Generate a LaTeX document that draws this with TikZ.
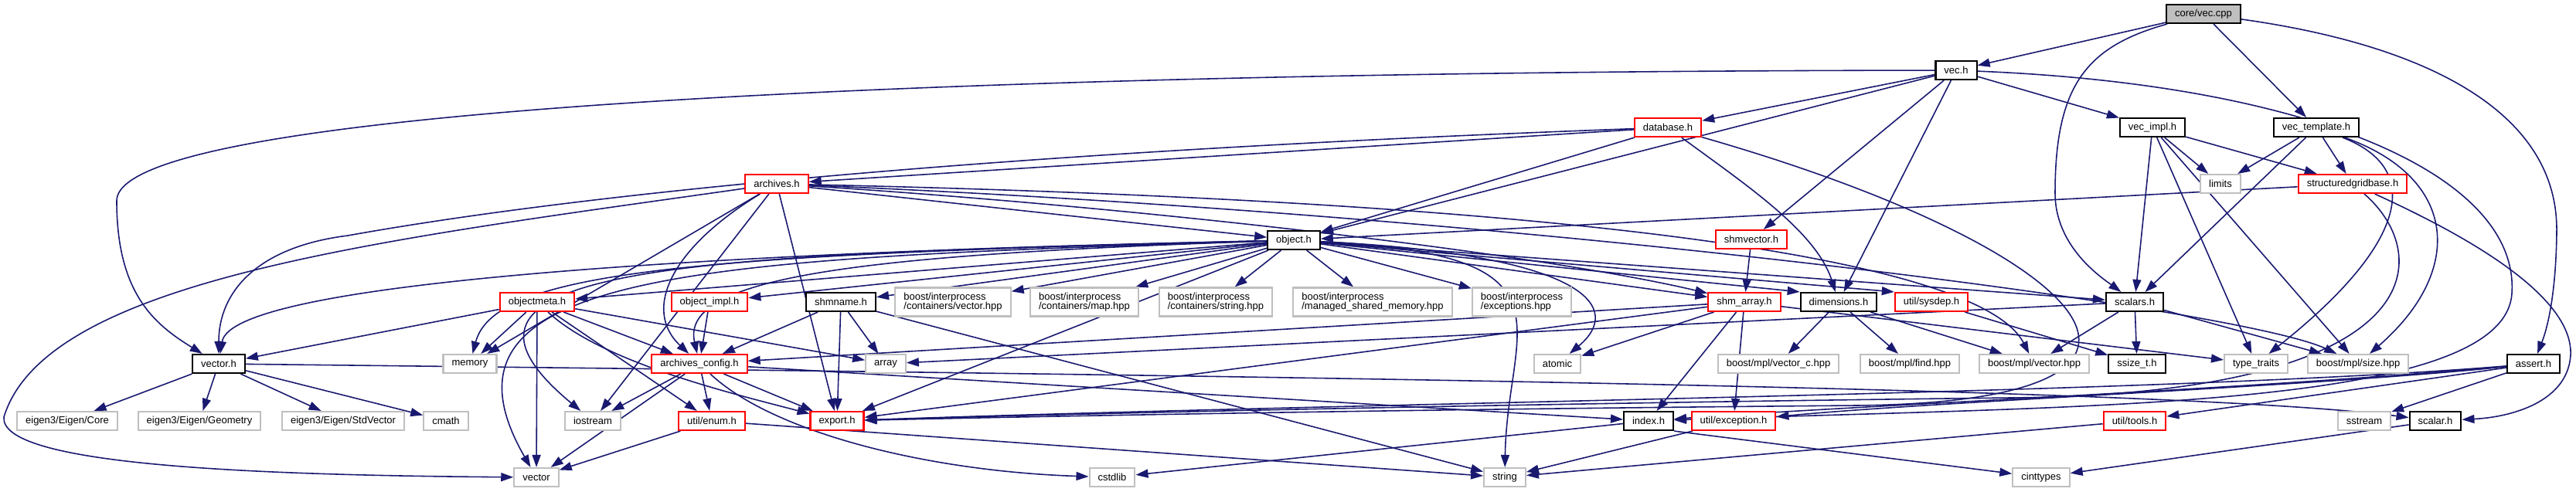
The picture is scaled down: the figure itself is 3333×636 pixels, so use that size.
\documentclass[tikz,border=0pt]{standalone}
\usepackage{fontspec}
\setmainfont{Liberation Sans}
\usetikzlibrary{arrows.meta,backgrounds}
\definecolor{edgeblue}{RGB}{25,25,112}
\definecolor{extgray}{RGB}{191,191,191}
\definecolor{truncred}{RGB}{255,0,0}
\tikzset{
  every picture/.style={line width=0.5pt},
  file/.style={draw=black, line width=0.6pt, fill=white, inner xsep=1.1mm, inner ysep=0pt,
    minimum height=2.4mm, font=\fontsize{3.7}{3.6}\selectfont, text=black},
  trunc/.style={file, draw=truncred},
  ext/.style={file, draw=extgray},
  ext2/.style={ext, align=left, minimum height=3.7mm},
  root/.style={file, fill=extgray},
  dep/.style={-{Triangle[length=1.6mm,width=1.1mm]}, color=edgeblue, line width=0.45pt},
}

\begin{document}
\begin{tikzpicture}[x=0.1mm, y=-0.1mm]
  \useasboundingbox (0,0) rectangle (3333,636);
  % include graph of core/vec.cpp, one row per include depth
  \node[root] (root) at (2851,18) {core/vec.cpp};
  \node[file] (vech) at (2531,91) {vec.h};
  \node[trunc] (database) at (2158,165) {database.h};
  \node[file] (vecimpl) at (2785,165) {vec\_impl.h};
  \node[file] (vectempl) at (2997,165) {vec\_template.h};
  \node[trunc] (archives) at (1005,238) {archives.h};
  \node[ext] (limits) at (2873,238) {limits};
  \node[trunc] (sgbase) at (3044,238) {structuredgridbase.h};
  \node[file] (object) at (1674,311) {object.h};
  \node[trunc] (shmvector) at (2266,310) {shmvector.h};
  \node[trunc] (objmeta) at (695,391) {objectmeta.h};
  \node[trunc] (objimpl) at (918,391) {object\_impl.h};
  \node[file] (shmname) at (1088,391) {shmname.h};
  \node[ext2] (ipvector) at (1233,391) {boost/interprocess\\/containers/vector.hpp};
  \node[ext2] (ipmap) at (1403,391) {boost/interprocess\\/containers/map.hpp};
  \node[ext2] (ipstring) at (1573,391) {boost/interprocess\\/containers/string.hpp};
  \node[ext2] (ipshm) at (1776,391) {boost/interprocess\\/managed\_shared\_memory.hpp};
  \node[ext2] (ipexc) at (1969,391) {boost/interprocess\\/exceptions.hpp};
  \node[trunc] (shmarray) at (2257,391) {shm\_array.h};
  \node[file] (dims) at (2379,391) {dimensions.h};
  \node[trunc] (sysdep) at (2499,391) {util/sysdep.h};
  \node[file] (scalars) at (2762,391) {scalars.h};
  \node[file] (vectorh) at (283,471) {vector.h};
  \node[ext] (memory) at (608,471) {memory};
  \node[trunc] (arconfig) at (905,471) {archives\_config.h};
  \node[ext] (array) at (1146,471) {array};
  \node[ext] (atomic) at (2015,471) {atomic};
  \node[ext] (mplvecc) at (2301,471) {boost/mpl/vector\_c.hpp};
  \node[ext] (mplfind) at (2471,471) {boost/mpl/find.hpp};
  \node[ext] (mplvec) at (2632,471) {boost/mpl/vector.hpp};
  \node[file] (ssizet) at (2765,471) {ssize\_t.h};
  \node[ext] (typetraits) at (2919,471) {type\_traits};
  \node[ext] (mplsize) at (3051,471) {boost/mpl/size.hpp};
  \node[file] (assert) at (3278,471) {assert.h};
  \node[ext] (eigcore) at (87,545) {eigen3/Eigen/Core};
  \node[ext] (eiggeom) at (258,545) {eigen3/Eigen/Geometry};
  \node[ext] (eigstd) at (444,545) {eigen3/Eigen/StdVector};
  \node[ext] (cmath) at (577,545) {cmath};
  \node[ext] (iostream) at (767,545) {iostream};
  \node[trunc] (utenum) at (921,545) {util/enum.h};
  \node[trunc] (export) at (1083,545) {export.h};
  \node[file] (index) at (2133,545) {index.h};
  \node[trunc] (exception) at (2243,545) {util/exception.h};
  \node[trunc] (tools) at (2762,545) {util/tools.h};
  \node[ext] (sstream) at (3059,545) {sstream};
  \node[file] (scalar) at (3151,545) {scalar.h};
  \node[ext] (stdvector) at (694,618) {vector};
  \node[ext] (cstdlib) at (1439,618) {cstdlib};
  \node[ext] (string) at (1947,618) {string};
  \node[ext] (cinttypes) at (2641,618) {cinttypes};

  \begin{pgfonlayer}{background}
  \draw[dep] (root) -- (vech);
  \draw[dep] (root) -- (vectempl);
  \draw[dep] (root) .. controls (2700,60) and (2659,110) .. (2659,250) .. controls (2659,320) and (2720,360) .. (scalars);
  \draw[dep] (root) .. controls (3150,60) and (3310,150) .. (3308,300) .. controls (3307,400) and (3290,440) .. (assert);

  \draw[dep] (vech) .. controls (1400,92) and (151,130) .. (151,260) .. controls (151,380) and (200,420) .. (vectorh);
  \draw[dep] (vech) -- (database);
  \draw[dep] (vech) -- (object);
  \draw[dep] (vech) -- (vecimpl);
  \draw[dep] (vech) -- (shmvector);
  \draw[dep] (vech) -- (dims);
  \draw[dep] (vech) .. controls (3000,110) and (3260,230) .. (3250,380) .. controls (3240,530) and (2700,525) .. (index);

  \draw[dep] (database) -- (archives);
  \draw[dep] (database) .. controls (1200,200) and (700,260) .. (450,305) .. controls (330,320) and (283,380) .. (vectorh);
  \draw[dep] (database) -- (object);
  \draw[dep] (database) .. controls (2260,240) and (2350,300) .. (dims);
  \draw[dep] (database) .. controls (2700,320) and (2900,520) .. (2400,525) .. controls (1800,530) and (1300,540) .. (export);

  \draw[dep] (vecimpl) -- (scalars);
  \draw[dep] (vecimpl) -- (typetraits);
  \draw[dep] (vecimpl) -- (mplsize);
  \draw[dep] (vecimpl) -- (limits);
  \draw[dep] (vecimpl) -- (sgbase);

  \draw[dep] (vectempl) -- (limits);
  \draw[dep] (vectempl) -- (scalars);
  \draw[dep] (vectempl) -- (sgbase);
  \draw[dep] (vectempl) .. controls (3140,220) and (3110,320) .. (typetraits);
  \draw[dep] (vectempl) .. controls (3180,230) and (3190,350) .. (mplsize);

  \draw[dep] (sgbase) -- (object);
  \draw[dep] (sgbase) .. controls (3150,330) and (3150,510) .. (2600,515) .. controls (2000,522) and (1400,535) .. (export);
  \draw[dep] (sgbase) .. controls (3180,300) and (3330,380) .. (3326,460) .. controls (3322,520) and (3250,540) .. (scalar);

  \draw[dep] (shmvector) -- (shmarray);

  \draw[dep] (archives) -- (object);
  \draw[dep] (archives) .. controls (500,310) and (60,360) .. (5,540) .. controls (0,600) and (300,615) .. (stdvector);
  \draw[dep] (archives) -- (iostream);
  \draw[dep] (archives) -- (memory);
  \draw[dep] (archives) .. controls (870,320) and (830,400) .. (arconfig);
  \draw[dep] (archives) -- (export);
  \draw[dep] (archives) .. controls (1500,270) and (2000,330) .. (shmarray);
  \draw[dep] (archives) .. controls (2000,260) and (2560,330) .. (mplvec);
  \draw[dep] (archives) .. controls (2000,280) and (2900,400) .. (mplsize);

  \draw[dep] (object) -- (objmeta);
  \draw[dep] (object) -- (objimpl);
  \draw[dep] (object) -- (shmname);
  \draw[dep] (object) -- (ipvector);
  \draw[dep] (object) -- (ipmap);
  \draw[dep] (object) -- (ipstring);
  \draw[dep] (object) -- (ipshm);
  \draw[dep] (object) -- (ipexc);
  \draw[dep] (object) -- (shmarray);
  \draw[dep] (object) -- (dims.north west);
  \draw[dep] (object) -- (sysdep.north west);
  \draw[dep] (object) -- (scalars);
  \draw[dep] (object) .. controls (1000,325) and (300,360) .. (vectorh);
  \draw[dep] (object) .. controls (900,330) and (640,350) .. (memory);
  \draw[dep] (object) .. controls (1100,330) and (880,360) .. (arconfig);
  \draw[dep] (object) .. controls (900,330) and (520,340) .. (iostream);
  \draw[dep] (object) .. controls (900,335) and (540,350) .. (stdvector);
  \draw[dep] (object) .. controls (2060,330) and (2100,400) .. (atomic);
  \draw[dep] (object) .. controls (2050,330) and (1950,420) .. (string);
  \draw[dep] (object) -- (export);

  \draw[dep] (objmeta) -- (vectorh);
  \draw[dep] (objmeta) -- (memory);
  \draw[dep] (objmeta) -- (stdvector);
  \draw[dep] (objmeta) -- (arconfig);
  \draw[dep] (objmeta) -- (array);
  \draw[dep] (objmeta) -- (utenum);
  \draw[dep] (objmeta) .. controls (780,470) and (950,510) .. (export);

  \draw[dep] (objimpl) -- (arconfig);
  \draw[dep] (shmname) -- (arconfig);
  \draw[dep] (shmname) -- (export);
  \draw[dep] (shmname) -- (array);
  \draw[dep] (shmname) -- (string);

  \draw[dep] (shmarray) -- (arconfig);
  \draw[dep] (shmarray) -- (atomic);
  \draw[dep] (shmarray) -- (export);
  \draw[dep] (shmarray) -- (index);
  \draw[dep] (shmarray) -- (exception);
  \draw[dep] (shmarray) -- (typetraits);

  \draw[dep] (dims) -- (mplvecc);
  \draw[dep] (dims) -- (mplfind);
  \draw[dep] (dims) -- (mplvec);
  \draw[dep] (sysdep) -- (ssizet);
  \draw[dep] (scalars) -- (array);
  \draw[dep] (scalars) -- (mplvec);
  \draw[dep] (scalars) -- (ssizet);
  \draw[dep] (scalars) -- (mplsize);

  \draw[dep] (vectorh) -- (eigcore);
  \draw[dep] (vectorh) -- (eiggeom);
  \draw[dep] (vectorh) -- (eigstd);
  \draw[dep] (vectorh) -- (cmath);
  \draw[dep] (vectorh) .. controls (1500,485) and (2800,500) .. (scalar);

  \draw[dep] (arconfig) -- (iostream);
  \draw[dep] (arconfig) -- (stdvector);
  \draw[dep] (arconfig) -- (utenum);
  \draw[dep] (arconfig) .. controls (1000,560) and (1200,610) .. (cstdlib);
  \draw[dep] (arconfig) -- (export);
  \draw[dep] (arconfig) -- (index);

  \draw[dep] (assert) .. controls (3000,500) and (2500,520) .. (exception);
  \draw[dep] (assert) -- (tools);
  \draw[dep] (assert) -- (sstream);
  \draw[dep] (assert) .. controls (2800,510) and (1800,520) .. (export);
  \draw[dep] (assert) .. controls (2900,505) and (2400,525) .. (index);

  \draw[dep] (utenum) -- (stdvector);
  \draw[dep] (utenum) -- (string);
  \draw[dep] (index) -- (cstdlib);
  \draw[dep] (index.south east) -- (cinttypes);
  \draw[dep] (exception) -- (string);
  \draw[dep] (tools) -- (string);
  \draw[dep] (scalar) -- (cinttypes);
  \end{pgfonlayer}
\end{tikzpicture}
\end{document}
